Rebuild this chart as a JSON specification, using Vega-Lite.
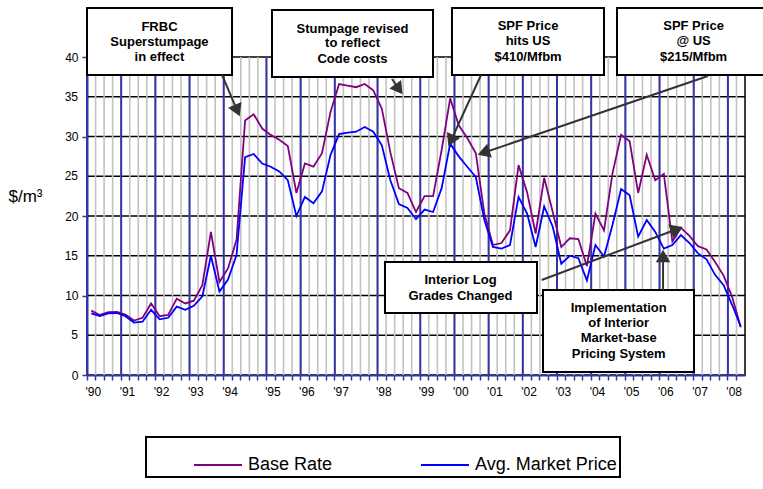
{
  "$schema": "https://vega.github.io/schema/vega-lite/v6.json",
  "width": 658,
  "height": 318,
  "autosize": {"type": "none"},
  "padding": {"left": 87, "top": 57, "right": 18, "bottom": 114},
  "background": "white",
  "view": {"stroke": "#000", "strokeWidth": 1.5},
  "config": {
    "font": "Liberation Sans",
    "axisY": {"grid": false, "labelOverlap": false, "domainColor": "#3434a4", "domainWidth": 2, "tickColor": "#3434a4", "tickWidth": 1.5, "tickSize": 5, "labelFontSize": 12, "labelColor": "#000", "labelPadding": 4, "titleAngle": 0, "titleX": -62, "titleY": 139, "titleAlign": "center", "titleBaseline": "middle", "titleFontSize": 17, "titleFontWeight": "normal", "titleColor": "#000"}
  },
  "datasets": {
    "main": [
      {"i":0,"yr":"'90","base":8.1,"market":7.75},
      {"i":1,"yr":"","base":7.55,"market":7.4},
      {"i":2,"yr":"","base":7.9,"market":7.75},
      {"i":3,"yr":"","base":7.95,"market":7.8},
      {"i":4,"yr":"'91","base":7.6,"market":7.4},
      {"i":5,"yr":"","base":6.85,"market":6.6},
      {"i":6,"yr":"","base":7.2,"market":6.7},
      {"i":7,"yr":"","base":9.0,"market":8.2},
      {"i":8,"yr":"'92","base":7.4,"market":7.0},
      {"i":9,"yr":"","base":7.55,"market":7.2},
      {"i":10,"yr":"","base":9.6,"market":8.6},
      {"i":11,"yr":"","base":9.0,"market":8.2},
      {"i":12,"yr":"'93","base":9.35,"market":8.7},
      {"i":13,"yr":"","base":11.3,"market":9.9},
      {"i":14,"yr":"","base":18.0,"market":15.0},
      {"i":15,"yr":"","base":11.7,"market":10.5},
      {"i":16,"yr":"'94","base":13.4,"market":12.0},
      {"i":17,"yr":"","base":17.0,"market":15.1},
      {"i":18,"yr":"","base":32.0,"market":27.4},
      {"i":19,"yr":"","base":32.8,"market":27.8},
      {"i":20,"yr":"","base":31.0,"market":26.6},
      {"i":21,"yr":"'95","base":30.2,"market":26.2},
      {"i":22,"yr":"","base":29.6,"market":25.6},
      {"i":23,"yr":"","base":28.8,"market":24.5},
      {"i":24,"yr":"","base":22.9,"market":20.0},
      {"i":25,"yr":"'96","base":26.6,"market":22.4},
      {"i":26,"yr":"","base":26.2,"market":21.6},
      {"i":27,"yr":"","base":27.9,"market":23.1},
      {"i":28,"yr":"","base":33.1,"market":27.7},
      {"i":29,"yr":"'97","base":36.6,"market":30.3},
      {"i":30,"yr":"","base":36.4,"market":30.5},
      {"i":31,"yr":"","base":36.2,"market":30.6},
      {"i":32,"yr":"","base":36.6,"market":31.2},
      {"i":33,"yr":"","base":35.8,"market":30.6},
      {"i":34,"yr":"'98","base":33.5,"market":28.9},
      {"i":35,"yr":"","base":28.0,"market":24.5},
      {"i":36,"yr":"","base":23.5,"market":21.5},
      {"i":37,"yr":"","base":22.9,"market":21.0},
      {"i":38,"yr":"","base":20.5,"market":19.6},
      {"i":39,"yr":"'99","base":22.5,"market":20.8},
      {"i":40,"yr":"","base":22.5,"market":20.5},
      {"i":41,"yr":"","base":28.3,"market":23.5},
      {"i":42,"yr":"","base":34.8,"market":29.1},
      {"i":43,"yr":"'00","base":31.4,"market":27.5},
      {"i":44,"yr":"","base":29.8,"market":26.2},
      {"i":45,"yr":"","base":27.9,"market":24.9},
      {"i":46,"yr":"","base":20.3,"market":19.5},
      {"i":47,"yr":"'01","base":16.35,"market":16.1},
      {"i":48,"yr":"","base":16.6,"market":15.9},
      {"i":49,"yr":"","base":18.2,"market":16.35},
      {"i":50,"yr":"","base":26.4,"market":22.4},
      {"i":51,"yr":"'02","base":23.0,"market":20.3},
      {"i":52,"yr":"","base":17.8,"market":16.1},
      {"i":53,"yr":"","base":24.8,"market":21.2},
      {"i":54,"yr":"","base":20.5,"market":18.65},
      {"i":55,"yr":"'03","base":16.1,"market":14.0},
      {"i":56,"yr":"","base":17.2,"market":15.0},
      {"i":57,"yr":"","base":17.1,"market":14.7},
      {"i":58,"yr":"","base":13.7,"market":11.9},
      {"i":59,"yr":"'04","base":20.3,"market":16.35},
      {"i":60,"yr":"","base":18.2,"market":14.9},
      {"i":61,"yr":"","base":25.4,"market":18.9},
      {"i":62,"yr":"","base":30.2,"market":23.4},
      {"i":63,"yr":"'05","base":29.4,"market":22.6},
      {"i":64,"yr":"","base":22.9,"market":17.4},
      {"i":65,"yr":"","base":27.7,"market":19.5},
      {"i":66,"yr":"","base":24.5,"market":18.0},
      {"i":67,"yr":"'06","base":25.3,"market":15.9},
      {"i":68,"yr":"","base":16.8,"market":16.35},
      {"i":69,"yr":"","base":18.5,"market":17.6},
      {"i":70,"yr":"","base":17.5,"market":16.6},
      {"i":71,"yr":"'07","base":16.2,"market":15.3},
      {"i":72,"yr":"","base":15.8,"market":14.55},
      {"i":73,"yr":"","base":14.2,"market":12.6},
      {"i":74,"yr":"","base":12.5,"market":11.3},
      {"i":75,"yr":"'08","base":9.8,"market":8.8},
      {"i":76,"yr":"","base":6.0,"market":6.1}
    ],
    "hgrid": [{"v":5},{"v":10},{"v":15},{"v":20},{"v":25},{"v":30},{"v":35}],
    "boxes": [
      {"x":-0.5,"x2":16.47,"y":46.16,"y2":37.74},
      {"x":21.15,"x2":39.99,"y":45.91,"y2":37.48},
      {"x":42.21,"x2":60.0,"y":46.16,"y2":37.74},
      {"x":61.52,"x2":80.0,"y":46.16,"y2":37.74},
      {"x":34.37,"x2":52.16,"y":14.21,"y2":7.8},
      {"x":52.86,"x2":70.53,"y":10.69,"y2":0.38}
    ],
    "texts": [
      {"x":7.98,"y":43.77,"t":"FRBC"},
      {"x":7.98,"y":41.89,"t":"Superstumpage"},
      {"x":7.98,"y":40.0,"t":"in effect"},
      {"x":30.57,"y":43.52,"t":"Stumpage revised"},
      {"x":30.57,"y":41.76,"t":"to reflect"},
      {"x":30.57,"y":39.75,"t":"Code costs"},
      {"x":51.11,"y":43.9,"t":"SPF Price"},
      {"x":51.11,"y":42.0,"t":"hits US"},
      {"x":51.11,"y":40.0,"t":"$410/Mfbm"},
      {"x":70.48,"y":43.9,"t":"SPF Price"},
      {"x":70.48,"y":42.0,"t":"@ US"},
      {"x":70.48,"y":40.0,"t":"$215/Mfbm"},
      {"x":43.21,"y":11.95,"t":"Interior Log"},
      {"x":43.21,"y":9.94,"t":"Grades Changed"},
      {"x":61.72,"y":8.43,"t":"Implementation"},
      {"x":61.72,"y":6.54,"t":"of Interior"},
      {"x":61.72,"y":4.65,"t":"Market-base"},
      {"x":61.72,"y":2.64,"t":"Pricing System"}
    ],
    "arrows": [
      {"x1":15.3,"y1":37.74,"hx":17.08,"hy":33.26,"ang":156.8},
      {"x1":35.19,"y1":37.23,"hx":36.0,"hy":35.94,"ang":144.2},
      {"x1":45.61,"y1":37.74,"hx":42.09,"hy":29.48,"ang":204.6},
      {"x1":72.17,"y1":37.61,"hx":45.91,"hy":27.96,"ang":251.1},
      {"x1":52.71,"y1":11.95,"hx":68.52,"hy":18.34,"ang":69.4},
      {"x1":66.91,"y1":10.69,"hx":66.91,"hy":14.97,"ang":0}
    ]
  },
  "layer": [
    {
      "layer": [
        {
          "data": {"name": "hgrid"},
          "mark": {"type": "rule", "stroke": "#000", "strokeWidth": 1.6},
          "encoding": {
            "y": {
              "field": "v", "type": "quantitative",
              "scale": {"domain": [0, 40], "nice": false},
              "axis": {"title": "$/m³", "values": [0, 5, 10, 15, 20, 25, 30, 35, 40], "tickCount": 8, "labelOverlap": false}
            }
          }
        },
        {
          "data": {"name": "main"},
          "mark": {"type": "rule", "stroke": "#c2c2c2", "strokeWidth": 1.6},
          "encoding": {
            "x": {
              "field": "i", "type": "ordinal", "bandPosition": 0,
              "scale": {"type": "band", "paddingInner": 0, "paddingOuter": 0},
              "axis": {
                "title": null,
                "bandPosition": 0,
                "labelExpr": "indexof([0,4,8,12,16,21,25,29,34,39,43,47,51,55,59,63,67,71,75], datum.value) >= 0 ? [\"'90\",\"'91\",\"'92\",\"'93\",\"'94\",\"'95\",\"'96\",\"'97\",\"'98\",\"'99\",\"'00\",\"'01\",\"'02\",\"'03\",\"'04\",\"'05\",\"'06\",\"'07\",\"'08\"][indexof([0,4,8,12,16,21,25,29,34,39,43,47,51,55,59,63,67,71,75], datum.value)] : ''",
                "labelAngle": 0,
                "labelOverlap": false,
                "labelBound": false,
                "labelOffset": 2,
                "labelFontSize": 12,
                "labelColor": "#000",
                "labelPadding": 6,
                "tickColor": "#3434a4",
                "tickWidth": 1.5,
                "tickSize": 5,
                "domainColor": "#3434a4",
                "domainWidth": 2,
                "grid": false
              }
            }
          }
        },
        {
          "data": {"name": "main"},
          "transform": [{"filter": "datum.yr != ''"}],
          "mark": {"type": "rule", "stroke": "#3434a4", "strokeWidth": 2},
          "encoding": {
            "x": {"field": "i", "type": "ordinal", "bandPosition": 0}
          }
        },
        {
          "data": {"name": "main"},
          "transform": [{"fold": ["base", "market"], "as": ["series", "v"]}],
          "mark": {"type": "line", "strokeWidth": 1.8},
          "encoding": {
            "x": {"field": "i", "type": "ordinal", "bandPosition": 0.5},
            "y": {"field": "v", "type": "quantitative"},
            "color": {
              "field": "series", "type": "nominal",
              "scale": {"domain": ["base", "market"], "range": ["#800080", "#0000ff"]},
              "legend": {
                "title": null,
                "orient": "none",
                "legendX": 59,
                "legendY": 380,
                "direction": "horizontal",
                "symbolType": "stroke",
                "symbolSize": 2304,
                "symbolStrokeWidth": 2,
                "symbolOffset": 44,
                "labelFontSize": 18,
                "labelColor": "#000",
                "labelOffset": 5,
                "labelLimit": 300,
                "columnPadding": 43,
                "padding": 3,
                "strokeColor": "#000",
                "labelExpr": "datum.value == 'base' ? 'Base Rate' : 'Avg. Market Price'",
                "encode": {"legend": {"update": {"strokeWidth": {"value": 2}}}}
              }
            }
          }
        }
      ]
    },
    {
      "layer": [
        {
          "data": {"name": "boxes"},
          "mark": {"type": "rect", "fill": "white", "stroke": "#000", "strokeWidth": 2},
          "encoding": {
            "x": {"field": "x", "type": "quantitative", "scale": {"domain": [-0.5, 76.5], "nice": false, "zero": false}, "axis": null},
            "x2": {"field": "x2"},
            "y": {"field": "y", "type": "quantitative"},
            "y2": {"field": "y2"}
          }
        },
        {
          "data": {"name": "texts"},
          "mark": {"type": "text", "fontWeight": "bold", "fontSize": 13, "align": "center", "baseline": "middle", "color": "#000"},
          "encoding": {
            "x": {"field": "x", "type": "quantitative", "axis": null},
            "y": {"field": "y", "type": "quantitative"},
            "text": {"field": "t"}
          }
        },
        {
          "data": {"name": "hgrid"},
          "transform": [{"filter": "datum.v % 10 == 5"}],
          "mark": {"type": "text", "fontSize": 12, "align": "right", "baseline": "middle", "color": "#000", "dx": -9},
          "encoding": {
            "x": {"datum": -0.5, "type": "quantitative", "axis": null},
            "y": {"field": "v", "type": "quantitative"},
            "text": {"field": "v", "type": "quantitative"}
          }
        },
        {
          "data": {"name": "arrows"},
          "mark": {"type": "rule", "stroke": "#333333", "strokeWidth": 2},
          "encoding": {
            "x": {"field": "x1", "type": "quantitative", "axis": null},
            "y": {"field": "y1", "type": "quantitative"},
            "x2": {"field": "hx"},
            "y2": {"field": "hy"}
          }
        },
        {
          "data": {"name": "arrows"},
          "mark": {"type": "point", "shape": "triangle-up", "filled": true, "color": "#333333", "size": 210, "opacity": 1},
          "encoding": {
            "x": {"field": "hx", "type": "quantitative", "axis": null},
            "y": {"field": "hy", "type": "quantitative"},
            "angle": {"field": "ang", "type": "quantitative", "scale": null}
          }
        }
      ]
    }
  ],
  "resolve": {"scale": {"x": "independent"}}
}
